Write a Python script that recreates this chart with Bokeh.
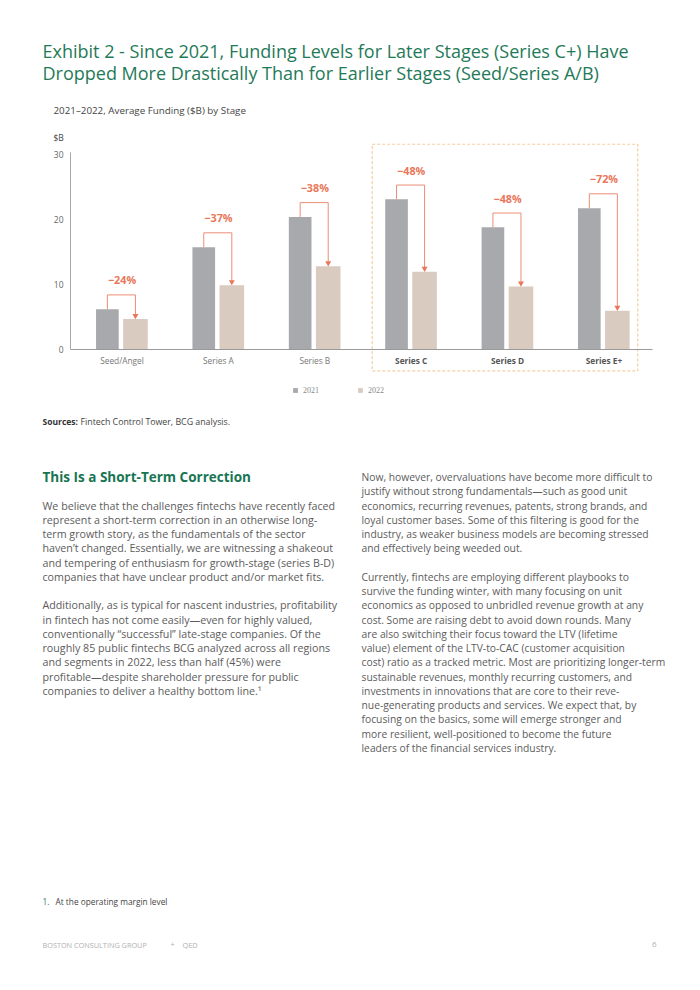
from bokeh.plotting import figure
from bokeh.layouts import column
from bokeh.models import (ColumnDataSource, FactorRange, Range1d, FixedTicker,
                          Legend, LegendItem)
from bokeh.transform import dodge
from bokeh.core.properties import value
from bokeh.embed import file_html
from bokeh.resources import INLINE

# ---------------- data ----------------
stages = ["Seed/Angel", "Series A", "Series B", "Series C", "Series D", "Series E+"]
funding_2021 = [6.2, 15.75, 20.4, 23.1, 18.8, 21.75]
funding_2022 = [4.7, 9.9, 12.8, 11.95, 9.7, 5.95]
change_labels = ["\u221224%", "\u221237%", "\u221238%", "\u221248%", "\u221248%", "\u221272%"]
years = ["2021", "2022"]
y_ticks = [0, 10, 20, 30]
highlight_stages = ["Series C", "Series D", "Series E+"]

title_lines = [
    "Exhibit 2 - Since 2021, Funding Levels for Later Stages (Series C+) Have",
    "Dropped More Drastically Than for Earlier Stages (Seed/Series A/B)",
]
subtitle = "2021\u20132022, Average Funding ($B) by Stage"
y_unit = "$B"
sources_bold = "Sources:"
sources_text = "Fintech Control Tower, BCG analysis."
heading = "This Is a Short-Term Correction"
left_col = [
    "We believe that the challenges fintechs have recently faced",
    "represent a short-term correction in an otherwise long-",
    "term growth story, as the fundamentals of the sector",
    "haven\u2019t changed. Essentially, we are witnessing a shakeout",
    "and tempering of enthusiasm for growth-stage (series B-D)",
    "companies that have unclear product and/or market fits.",
    "",
    "Additionally, as is typical for nascent industries, profitability",
    "in fintech has not come easily\u2014even for highly valued,",
    "conventionally \u201csuccessful\u201d late-stage companies. Of the",
    "roughly 85 public fintechs BCG analyzed across all regions",
    "and segments in 2022, less than half (45%) were",
    "profitable\u2014despite shareholder pressure for public",
    "companies to deliver a healthy bottom line.\u00b9",
]
right_col = [
    "Now, however, overvaluations have become more difficult to",
    "justify without strong fundamentals\u2014such as good unit",
    "economics, recurring revenues, patents, strong brands, and",
    "loyal customer bases. Some of this filtering is good for the",
    "industry, as weaker business models are becoming stressed",
    "and effectively being weeded out.",
    "",
    "Currently, fintechs are employing different playbooks to",
    "survive the funding winter, with many focusing on unit",
    "economics as opposed to unbridled revenue growth at any",
    "cost. Some are raising debt to avoid down rounds. Many",
    "are also switching their focus toward the LTV (lifetime",
    "value) element of the LTV-to-CAC (customer acquisition",
    "cost) ratio as a tracked metric. Most are prioritizing longer-term",
    "sustainable revenues, monthly recurring customers, and",
    "investments in innovations that are core to their reve-",
    "nue-generating products and services. We expect that, by",
    "focusing on the basics, some will emerge stronger and",
    "more resilient, well-positioned to become the future",
    "leaders of the financial services industry.",
]
footnote_num = "1."
footnote_text = "At the operating margin level"
footer_left = "BOSTON CONSULTING GROUP"
footer_plus = "+"
footer_right = "QED"
page_number = "6"

# ---------------- style ----------------
GREEN = "#1f7a58"
HEAD_GREEN = "#177552"
BODY = "#5c5c5c"
C2021 = "#a8a9ad"
C2022 = "#dacbc0"
SALMON = "#e9775a"
SALMON_LINE = "#ec8d75"
BOX = "#f2c28c"
FONT = "Open Sans"
PAGE_W = 700
LEFT = 25                 # common left border of every figure (page px)

TOP_H = 143               # page rows 0..143 : heading texts
CHART_FRAME_H = 253       # page rows 143..396 : chart frame
CHART_BOTTOM = 10         # border under chart frame
BOT_START = TOP_H + CHART_FRAME_H + CHART_BOTTOM
BOT_END = 976

PX_PER_UNIT = 6.5
Y_ZERO_PAGE = 349.0
Y_TOP = (Y_ZERO_PAGE - TOP_H) / PX_PER_UNIT
Y_BOTTOM = Y_TOP - CHART_FRAME_H / PX_PER_UNIT
X_PAD = 0.5015            # categorical padding per side (absolute)
Y_AXIS_AT = -0.0346       # synthetic x of the value axis
X_AXIS_END = 6.0          # synthetic x where the baseline stops


def text_fig(y0, y1):
    f = figure(width=PAGE_W, height=int(y1 - y0), output_backend="svg",
               toolbar_location=None, x_range=Range1d(LEFT, PAGE_W),
               y_range=Range1d(y1, y0), x_axis_type=None, y_axis_type=None,
               min_border_left=LEFT, min_border_right=0, min_border_top=0,
               min_border_bottom=0)
    f.outline_line_color = None
    f.xgrid.visible = False
    f.ygrid.visible = False
    f.background_fill_color = "white"
    f.border_fill_color = "white"
    return f


def put(f, texts, xs, ys, size, color, style="normal", font=FONT, align="left"):
    f.text(x=xs, y=ys, text=texts, text_font=value(font), text_font_size=size,
           text_font_style=style, text_color=color, text_align=align,
           text_baseline="middle")


# ---------------- top texts ----------------
top = text_fig(0, TOP_H)
put(top, title_lines, [42, 42], [50, 72], "18px", GREEN)
put(top, [subtitle], [53], [110], "9.8px", "#444444")
put(top, [y_unit], [53], [137], "8.5px", "#444444")

# ---------------- chart ----------------
p = figure(width=PAGE_W, height=CHART_FRAME_H + CHART_BOTTOM, output_backend="svg",
           toolbar_location=None,
           x_range=FactorRange(factors=stages, range_padding=X_PAD,
                               range_padding_units="absolute"),
           y_range=Range1d(Y_BOTTOM, Y_TOP),
           min_border_left=LEFT, min_border_right=0, min_border_top=0,
           min_border_bottom=CHART_BOTTOM)
p.outline_line_color = None
p.xgrid.visible = False
p.ygrid.visible = False
p.background_fill_color = "white"
p.border_fill_color = "white"

p.xaxis.fixed_location = 0
p.xaxis.bounds = (Y_AXIS_AT, X_AXIS_END)
p.xaxis.axis_line_color = "#9a9a9a"
p.xaxis.axis_line_width = 1.2
p.xaxis.major_tick_line_color = None
p.xaxis.minor_tick_line_color = None
p.xaxis.major_tick_out = 0
p.xaxis.major_label_standoff = 0
p.xaxis.major_label_text_color = None
p.xaxis.major_label_text_font_size = "1px"

p.yaxis.fixed_location = Y_AXIS_AT
p.yaxis.ticker = FixedTicker(ticks=y_ticks)
p.yaxis.bounds = (0, 30.3)
p.yaxis.axis_line_color = "#a8a8a8"
p.yaxis.major_tick_line_color = None
p.yaxis.minor_tick_line_color = None
p.yaxis.major_tick_out = 0
p.yaxis.major_label_standoff = 7
p.yaxis.major_label_text_font = FONT
p.yaxis.major_label_text_font_size = "8.5px"
p.yaxis.major_label_text_color = "#666666"

BRACKET_GAP = 2.2
LABEL_GAP = 2.3
ARROW_GAP = 0.5
OFF21, OFF22 = -0.152, 0.139

src = ColumnDataSource(dict(
    stage=stages,
    v2021=funding_2021,
    v2022=funding_2022,
    top=[v + BRACKET_GAP for v in funding_2021],
    label_y=[v + BRACKET_GAP + LABEL_GAP for v in funding_2021],
    arrow_y=[v + ARROW_GAP for v in funding_2022],
    label=change_labels,
))

box_src = ColumnDataSource(dict(left=[highlight_stages[0]], right=[highlight_stages[-1]],
                                top=[31.6], bottom=[-3.3]))
p.quad(left=dodge("left", -0.405, range=p.x_range), right=dodge("right", 0.351, range=p.x_range),
       top="top", bottom="bottom", source=box_src, fill_color=None,
       line_color=BOX, line_dash="3 2", line_width=1)

r21 = p.vbar(x=dodge("stage", OFF21, range=p.x_range), top="v2021", width=0.235,
             source=src, fill_color=C2021, line_color=None)
r22 = p.vbar(x=dodge("stage", OFF22, range=p.x_range), top="v2022", width=0.255,
             source=src, fill_color=C2022, line_color=None)

p.segment(x0=dodge("stage", OFF21, range=p.x_range), y0="v2021",
          x1=dodge("stage", OFF21, range=p.x_range), y1="top",
          source=src, line_color=SALMON_LINE, line_width=1)
p.segment(x0=dodge("stage", OFF21, range=p.x_range), y0="top",
          x1=dodge("stage", OFF22, range=p.x_range), y1="top",
          source=src, line_color=SALMON_LINE, line_width=1)
p.segment(x0=dodge("stage", OFF22, range=p.x_range), y0="top",
          x1=dodge("stage", OFF22, range=p.x_range), y1="arrow_y",
          source=src, line_color=SALMON_LINE, line_width=1)
p.scatter(x=dodge("stage", OFF22, range=p.x_range), y="arrow_y", source=src,
          marker="inverted_triangle", size=6, fill_color=SALMON, line_color=None)
p.text(x="stage", y="label_y", text="label", source=src,
       text_font=value(FONT), text_font_style="bold", text_font_size="10.8px",
       text_color=SALMON, text_align="center", text_baseline="middle")

CAT_Y = -1.7
normal = [s for s in stages if s not in highlight_stages]
p.text(x=normal, y=[CAT_Y] * len(normal), text=normal,
       text_font=value(FONT), text_font_size="8.3px", text_color="#777777",
       text_align="center", text_baseline="middle")
p.text(x=highlight_stages, y=[CAT_Y] * len(highlight_stages), text=highlight_stages,
       text_font=value(FONT), text_font_style="bold", text_font_size="8.3px",
       text_color="#555555", text_align="center", text_baseline="middle")

legend = Legend(items=[LegendItem(label=years[0], renderers=[r21]),
                       LegendItem(label=years[1], renderers=[r22])],
                location=(292 - LEFT, CHART_FRAME_H - (394.5 - TOP_H)),
                orientation="horizontal",
                glyph_width=6, glyph_height=6, label_height=6, label_standoff=5,
                spacing=34, padding=0, margin=0, border_line_color=None,
                background_fill_alpha=0, label_text_font="Liberation Serif",
                label_text_font_size="8px", label_text_color="#888888")
p.add_layout(legend)

# ---------------- bottom texts ----------------
bot = text_fig(BOT_START, BOT_END)
put(bot, [sources_bold], [42], [421], "8.5px", "#333333", style="bold")
put(bot, [sources_text], [80], [421], "8.8px", "#444444")
put(bot, [heading], [42], [476], "13.5px", HEAD_GREEN, style="bold")

STEP = 14.25
lx = [42 for t in left_col if t]
ly = [505 + i * STEP for i, t in enumerate(left_col) if t]
put(bot, [t for t in left_col if t], lx, ly, "10.7px", BODY)
rx = [361 for t in right_col if t]
ry = [476.7 + i * STEP for i, t in enumerate(right_col) if t]
put(bot, [t for t in right_col if t], rx, ry, "10.3px", BODY)

put(bot, [footnote_num], [42], [901], "8.3px", GREEN)
put(bot, [footnote_text], [55], [901], "8.3px", "#444444")
put(bot, [footer_left], [42], [944], "7.3px", "#b0b0b0")
put(bot, [footer_plus], [170], [944], "7.3px", "#b0b0b0")
put(bot, [footer_right], [182], [944], "7.3px", "#b0b0b0")
put(bot, [page_number], [656], [944], "8px", "#b0b0b0", align="right")

layout = column(top, p, bot, spacing=0)
open("out.html", "w").write(file_html(layout, INLINE))
